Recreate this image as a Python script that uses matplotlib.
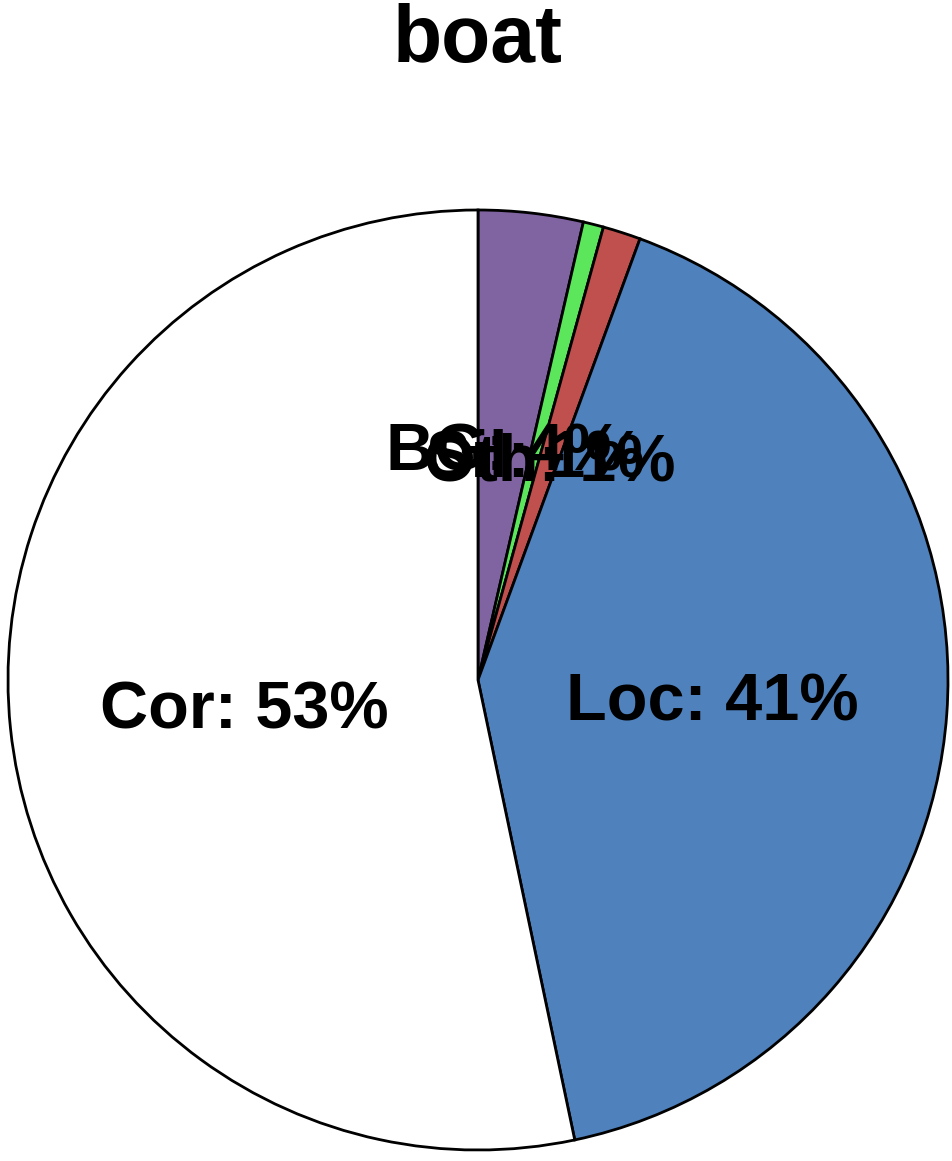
import matplotlib.pyplot as plt

plt.rcParams['font.family'] = ['Liberation Sans', 'DejaVu Sans']

# Slice data, clockwise from 12 o'clock
labels = ['BG', 'Sil', 'Oth', 'Loc', 'Cor']
shares = [3.6, 0.7, 1.3, 41.1, 53.3]
colors = ['#8064A2', '#5CE65C', '#C0504D', '#4F81BD', '#FFFFFF']

fig = plt.figure(figsize=(9.52, 11.61), dpi=100)
ax = fig.add_axes([8 / 952, 11 / 1161, 940 / 952, 940 / 1161])

texts = [f'{lab}: {s:.0f}%' for lab, s in zip(labels, shares)]
wedges, txts = ax.pie(shares, labels=texts, colors=colors, startangle=90,
                      counterclock=False, labeldistance=0.5,
                      wedgeprops=dict(edgecolor='black', linewidth=2),
                      textprops=dict(fontsize=48, fontweight='bold'))
for t in txts:
    t.set_horizontalalignment('center')
    t.set_verticalalignment('center_baseline')

ax.set_xlim(-1, 1)
ax.set_ylim(-1, 1)
ax.set_aspect('equal')
ax.axis('off')

fig.text(0.502, 1 - 41 / 1161, 'boat', ha='center', va='center',
         fontsize=58, fontweight='bold')

plt.savefig('out.png', dpi=100)
